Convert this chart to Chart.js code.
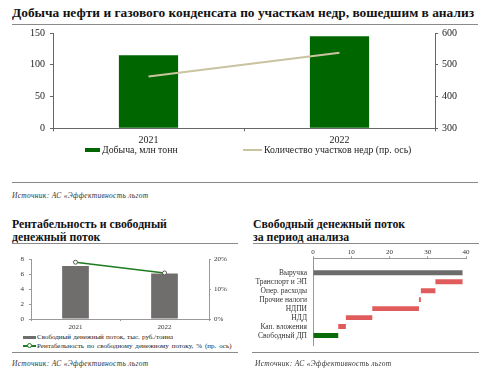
<!DOCTYPE html>
<html>
<head>
<meta charset="utf-8">
<script src="https://cdn.jsdelivr.net/npm/chart.js@4"></script>
<style>
  body { margin: 0; width: 486px; height: 370px; background: #fff; position: relative; overflow: hidden;
         font-family: "Liberation Serif", serif; color: #222; }
  .abs { position: absolute; white-space: nowrap; }
  .title { font-weight: bold; font-size: 13.4px; line-height: 13px; color: #111; }
  .sub { font-size: 11.8px; }
  .rule { position: absolute; height: 0; border-top: 1.5px solid #8a8a8a; }
  .src { font-style: italic; font-size: 7.5px; color: #333; letter-spacing: 0.3px; }
  .leg { font-size: 9.8px; line-height: 10px; }
  .leg2 { font-size: 7px; line-height: 7px; }
  canvas { position: absolute; }
</style>
</head>
<body>
<div class="abs title" style="left:12px;top:6px;">Добыча нефти и газового конденсата по участкам недр, вошедшим в анализ</div>
<div class="rule" style="left:12px;top:24px;width:466px;"></div>
<canvas id="top" width="486" height="128" style="left:0;top:22px;"></canvas>
<div class="abs" style="left:85px;top:148px;width:15px;height:4px;background:#006600;"></div>
<div class="abs leg" style="left:102px;top:145px;">Добыча, млн тонн</div>
<div class="abs" style="left:243px;top:149px;width:19px;height:2px;background:#c9c3a0;"></div>
<div class="abs leg" style="left:264px;top:145px;">Количество участков недр (пр. ось)</div>
<div class="rule" style="left:12px;top:182px;width:466px;"></div>
<div class="abs src" style="left:12px;top:191px;">Источник: АС «Эффективность льгот</div>

<div class="abs title sub" style="left:12px;top:218px;">Рентабельность и свободный</div>
<div class="abs title sub" style="left:12px;top:231px;">денежный поток</div>
<div class="rule" style="left:12px;top:243px;width:226px;"></div>
<canvas id="left" width="245" height="83" style="left:0;top:250px;"></canvas>
<div class="abs" style="left:23px;top:335.5px;width:13px;height:3px;background:#706d6d;"></div>
<div class="abs leg2" style="left:37px;top:333.5px;word-spacing:0.5px;">Свободный денежный поток, тыс. руб./тонна</div>
<div class="abs" style="left:23px;top:345px;width:13px;height:1.5px;background:#1e7b1e;"></div>
<div class="abs" style="left:27px;top:343px;width:3px;height:3px;border:1px solid #1e7b1e;border-radius:50%;background:#fff;"></div>
<div class="abs leg2" style="left:37px;top:342.5px;word-spacing:1.2px;">Рентабельность по свободному денежному потоку, % (пр. ось)</div>
<div class="rule" style="left:12px;top:352px;width:226px;"></div>
<div class="abs src" style="left:12px;top:359px;">Источник: АС «Эффективность льгот</div>

<div class="abs title sub" style="left:253px;top:218px;">Свободный денежный поток</div>
<div class="abs title sub" style="left:253px;top:231px;">за период анализа</div>
<div class="rule" style="left:253px;top:243px;width:226px;"></div>
<canvas id="flow" width="241" height="110" style="left:245px;top:246px;"></canvas>
<div class="rule" style="left:252px;top:352px;width:227px;"></div>
<div class="abs src" style="left:255px;top:359px;">Источник: АС «Эффективность льгот</div>

<script>
// values
const years = ['2021', '2022'];
const oilOutput = [115, 145];          // млн тонн
const licenceCount = [463, 538];       // участков недр, правая ось
const fcfPerTonne = [7.1, 6.1];        // тыс. руб./тонна
const fcfMargin = [19.0, 15.4];        // %, правая ось
const flowLabels = ['Выручка', 'Транспорт и ЭП', 'Опер. расходы', 'Прочие налоги',
  'НДПИ', 'НДД', 'Кап. вложения', 'Свободный ДП'];
const flowStart = [0, 32.0, 28.2, 27.7, 15.5, 8.6, 6.6, 0];
const flowEnd = [39.1, 39.1, 32.0, 28.2, 27.7, 15.5, 8.6, 6.6];

const serif = 'Liberation Serif';
const axisCol = '#666';

function fixW(w) { return s => { s.width = w; }; }
function fixH(h) { return s => { s.height = h; }; }

function axis(extra) {
  return Object.assign({
    grid: { drawOnChartArea: false, drawTicks: true, tickLength: 3, color: axisCol },
    border: { color: axisCol, width: 1 },
  }, extra);
}

new Chart(document.getElementById('top'), {
  data: {
    labels: years,
    datasets: [
      { type: 'line', data: licenceCount, yAxisID: 'y1', borderColor: '#c9c3a0', borderWidth: 2,
        pointRadius: 0, order: 0 },
      { type: 'bar', data: oilOutput, yAxisID: 'y', backgroundColor: '#006600',
        barPercentage: 0.62, categoryPercentage: 0.5, order: 1 }
    ]
  },
  options: {
    responsive: false, animation: false,
    layout: { padding: { top: 9.7, left: 0, right: 0, bottom: 0 } },
    plugins: { legend: { display: false }, tooltip: { enabled: false } },
    scales: {
      x: axis({ ticks: { font: { family: serif, size: 10 }, color: '#222', padding: 3 }, afterFit: fixH(21.7) }),
      y: axis({ position: 'left', min: 0, max: 150,
        ticks: { stepSize: 50, font: { family: serif, size: 10 }, color: '#222', padding: 5 }, afterFit: fixW(53) }),
      y1: axis({ position: 'right', min: 300, max: 600,
        ticks: { stepSize: 100, font: { family: serif, size: 10 }, color: '#222', padding: 4 }, afterFit: fixW(51) })
    }
  }
});

new Chart(document.getElementById('left'), {
  data: {
    labels: years,
    datasets: [
      { type: 'line', data: fcfMargin, yAxisID: 'y1', borderColor: '#1e7b1e', borderWidth: 1.5,
        pointRadius: 2, pointBackgroundColor: '#fff', pointBorderColor: '#555', pointBorderWidth: 1, order: 0 },
      { type: 'bar', data: fcfPerTonne, yAxisID: 'y', backgroundColor: '#706d6d',
        barPercentage: 0.6, categoryPercentage: 0.5, order: 1 }
    ]
  },
  options: {
    responsive: false, animation: false,
    layout: { padding: { top: 7.7, left: 0, right: 0, bottom: 0 } },
    plugins: { legend: { display: false }, tooltip: { enabled: false } },
    scales: {
      x: axis({ grid: { drawOnChartArea: false, tickLength: 2, color: '#999' }, border: { color: '#999' },
        ticks: { font: { family: serif, size: 7 }, color: '#333', padding: 2 }, afterFit: fixH(14) }),
      y: axis({ position: 'left', min: 0, max: 8, grid: { drawOnChartArea: false, tickLength: 2, color: '#999' },
        border: { color: '#999' },
        ticks: { stepSize: 2, font: { family: serif, size: 7 }, color: '#333', padding: 5 }, afterFit: fixW(31) }),
      y1: axis({ position: 'right', min: 0, max: 20, grid: { drawOnChartArea: false, tickLength: 2, color: '#999' },
        border: { color: '#999' },
        ticks: { stepSize: 10, font: { family: serif, size: 7 }, color: '#333', padding: 3,
          callback: v => v + '%' }, afterFit: fixW(36) })
    }
  }
});

const flowColors = flowLabels.map((_, i) => i === 0 ? '#6e6b6b' : (i === flowLabels.length - 1 ? '#0a6b0a' : '#e05c5c'));

new Chart(document.getElementById('flow'), {
  type: 'bar',
  data: {
    datasets: [{
      data: flowLabels.map((_, i) => ({ x: [flowStart[i], flowEnd[i]], y: i })),
      backgroundColor: flowColors,
      barPercentage: 0.55, categoryPercentage: 1
    }]
  },
  options: {
    indexAxis: 'y',
    responsive: false, animation: false,
    layout: { padding: { top: 0, left: 0, right: 20, bottom: 5 } },
    plugins: { legend: { display: false }, tooltip: { enabled: false } },
    scales: {
      x: axis({ position: 'top', min: 0, max: 40, grid: { drawOnChartArea: false, tickLength: 2, color: '#999' },
        border: { color: '#999' },
        ticks: { stepSize: 10, font: { family: serif, size: 7 }, color: '#333', padding: 0 }, afterFit: fixH(12.3) }),
      y: axis({ type: 'linear', reverse: true, min: -1, max: 7.5, grid: { drawOnChartArea: false, drawTicks: false },
        border: { color: '#999' },
        afterBuildTicks: s => { s.ticks = flowLabels.map((_, i) => ({ value: i })); },
        ticks: { autoSkip: false, font: { family: serif, size: 7.5 }, color: '#333', padding: 6,
          callback: v => flowLabels[v] ?? '' }, afterFit: fixW(68) })
    }
  }
});
</script>
</body>
</html>
